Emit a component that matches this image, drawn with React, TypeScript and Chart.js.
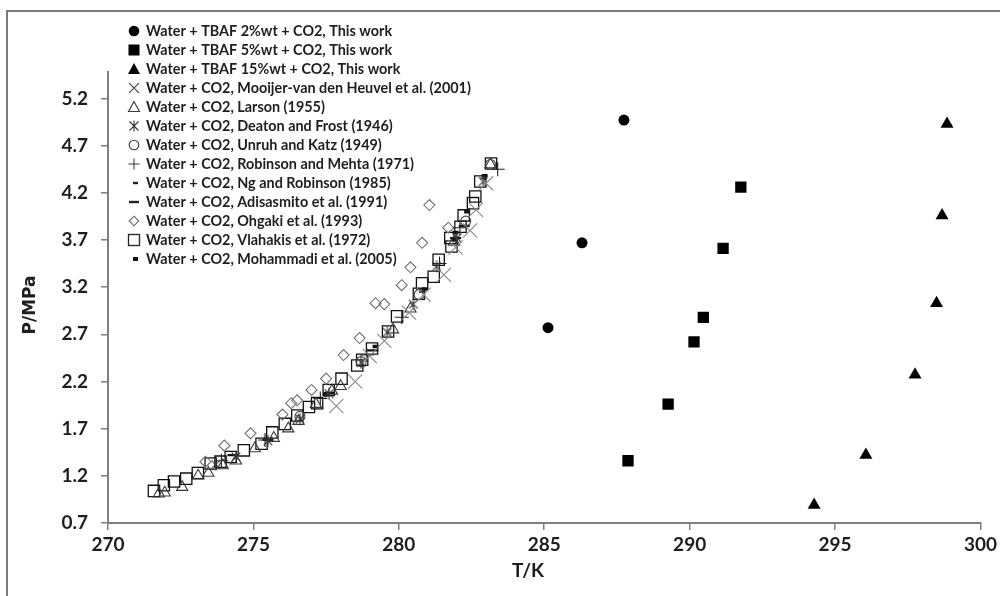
import React, { useEffect, useRef } from 'react';
import { Chart, registerables } from 'chart.js';

Chart.register(...registerables);

// ---------- axes ----------
const xMin = 270;
const xMax = 300;
const xStep = 5;
const yMin = 0.7;
const yMax = 5.48;
const yTickValues = [0.7, 1.2, 1.7, 2.2, 2.7, 3.2, 3.7, 4.2, 4.7, 5.2];
const xTitle = 'T/K';
const yTitle = 'P/MPa';

// ---------- data: [T/K, P/MPa] ----------
const tbaf2: [number, number][] = [[285.13, 2.77], [286.3, 3.67], [287.74, 4.97]];
const tbaf5: [number, number][] = [[287.88, 1.36], [289.26, 1.96], [290.15, 2.62], [290.47, 2.88], [291.15, 3.61], [291.76, 4.26]];
const tbaf15: [number, number][] = [[294.28, 0.89], [296.06, 1.42], [297.75, 2.27], [298.49, 3.03], [298.68, 3.96], [298.85, 4.93]];

const mooijer: [number, number][] = [[277.85, 1.94], [278.5, 2.2], [279.0, 2.47], [279.5, 2.63], [280.35, 2.93], [280.85, 3.12], [281.55, 3.33], [281.95, 3.62], [282.45, 3.8], [282.65, 4.02], [283.0, 4.3]];
const larson: [number, number][] = [[271.75, 1.01], [271.95, 1.02], [272.55, 1.08], [273.1, 1.2], [273.45, 1.23], [273.95, 1.31], [274.4, 1.36], [275.05, 1.49], [275.7, 1.6], [276.2, 1.7], [276.55, 1.78], [277.15, 1.96], [277.7, 2.1], [278.0, 2.15], [279.8, 2.75], [280.4, 2.97], [281.9, 3.68], [283.15, 4.5]];
const deaton: [number, number][] = [[273.7, 1.32], [274.4, 1.4], [275.5, 1.57], [276.6, 1.8], [277.6, 2.07], [278.7, 2.4], [279.6, 2.72], [280.5, 3.02], [281.3, 3.42], [282.0, 3.72], [282.9, 4.32]];
const unruh: [number, number][] = [[276.6, 1.83], [278.7, 2.41], [280.7, 3.12], [282.3, 3.9], [283.15, 4.5]];
const robinson: [number, number][] = [[273.9, 1.36], [275.4, 1.58], [277.3, 2.02], [278.9, 2.48], [280.1, 2.88], [281.4, 3.45], [282.1, 3.83], [283.4, 4.45]];
const ng: [number, number][] = [[280.8, 3.15], [281.9, 3.7], [282.9, 4.35]];
const adisasmito: [number, number][] = [[274.3, 1.42], [275.5, 1.58], [277.6, 2.08], [279.1, 2.53], [281.95, 3.72], [282.25, 3.85]];
const ohgaki: [number, number][] = [[273.35, 1.35], [274.0, 1.52], [274.9, 1.65], [276.0, 1.85], [276.3, 1.97], [276.5, 2.0], [277.0, 2.11], [277.5, 2.23], [278.1, 2.48], [278.65, 2.66], [279.2, 3.03], [279.5, 3.02], [280.1, 3.22], [280.4, 3.41], [280.8, 3.67], [281.05, 4.07], [281.7, 3.83]];
const vlahakis: [number, number][] = [[271.58, 1.04], [271.92, 1.1], [272.27, 1.14], [272.69, 1.17], [273.09, 1.23], [273.53, 1.33], [273.87, 1.35], [274.22, 1.4], [274.67, 1.47], [275.28, 1.54], [275.65, 1.66], [276.08, 1.75], [276.51, 1.84], [276.91, 1.93], [277.19, 1.97], [277.59, 2.11], [278.03, 2.23], [278.57, 2.37], [278.74, 2.43], [279.08, 2.55], [279.63, 2.73], [279.94, 2.89], [280.69, 3.13], [280.8, 3.24], [281.2, 3.31], [281.37, 3.49], [281.81, 3.63], [281.77, 3.72], [282.12, 3.84], [282.23, 3.96], [282.55, 4.09], [282.63, 4.16], [282.8, 4.32], [283.17, 4.51]];
const mohammadi: [number, number][] = [[277.5, 2.06], [279.2, 2.57], [280.9, 3.18], [281.95, 3.78], [282.35, 4.0], [282.95, 4.38]];

const seriesLabels = [
  'Water + TBAF 2%wt + CO2, This work',
  'Water + TBAF 5%wt + CO2, This work',
  'Water + TBAF 15%wt + CO2, This work',
  'Water + CO2, Mooijer-van den Heuvel et al. (2001)',
  'Water + CO2, Larson (1955)',
  'Water + CO2, Deaton and Frost (1946)',
  'Water + CO2, Unruh and Katz (1949)',
  'Water + CO2, Robinson and Mehta (1971)',
  'Water + CO2, Ng and Robinson (1985)',
  'Water + CO2, Adisasmito et al. (1991)',
  'Water + CO2, Ohgaki et al. (1993)',
  'Water + CO2, Vlahakis et al. (1972)',
  'Water + CO2, Mohammadi et al. (2005)',
];
const seriesData = [tbaf2, tbaf5, tbaf15, mooijer, larson, deaton, unruh, robinson, ng, adisasmito, ohgaki, vlahakis, mohammadi];
const seriesKinds = ['circleF', 'squareF', 'triF', 'cross', 'triO', 'star6', 'circleO', 'plus', 'dashS', 'dashL', 'diamond', 'squareO', 'dashT'];

const FONT = 'Lato, "Open Sans", sans-serif';

function makeStar(size: number, color: string, lw: number) {
  const c = document.createElement('canvas');
  c.width = size;
  c.height = size;
  const g = c.getContext('2d')!;
  g.strokeStyle = color;
  g.lineWidth = lw;
  const m = size / 2;
  const r = size / 2 - 1;
  const d = r * 0.72;
  g.beginPath();
  g.moveTo(m, m - r);
  g.lineTo(m, m + r);
  g.moveTo(m - d, m - d);
  g.lineTo(m + d, m + d);
  g.moveTo(m - d, m + d);
  g.lineTo(m + d, m - d);
  g.stroke();
  return c;
}

function drawLegendMarker(ctx: CanvasRenderingContext2D, kind: string, x: number, y: number) {
  ctx.save();
  ctx.lineWidth = 1.1;
  ctx.strokeStyle = '#3a3a3a';
  ctx.fillStyle = '#000';
  ctx.beginPath();
  switch (kind) {
    case 'circleF':
      ctx.arc(x, y, 5.3, 0, Math.PI * 2);
      ctx.fill();
      break;
    case 'squareF':
      ctx.fillRect(x - 5.5, y - 5.5, 11, 11);
      break;
    case 'triF':
      ctx.moveTo(x, y - 6);
      ctx.lineTo(x + 6, y + 5);
      ctx.lineTo(x - 6, y + 5);
      ctx.closePath();
      ctx.fill();
      break;
    case 'cross':
      ctx.strokeStyle = '#555';
      ctx.moveTo(x - 5, y - 5); ctx.lineTo(x + 5, y + 5);
      ctx.moveTo(x - 5, y + 5); ctx.lineTo(x + 5, y - 5);
      ctx.stroke();
      break;
    case 'triO':
      ctx.moveTo(x, y - 5.5);
      ctx.lineTo(x + 5.5, y + 4.5);
      ctx.lineTo(x - 5.5, y + 4.5);
      ctx.closePath();
      ctx.stroke();
      break;
    case 'star6':
      ctx.moveTo(x, y - 5.5); ctx.lineTo(x, y + 5.5);
      ctx.moveTo(x - 4.5, y - 4.5); ctx.lineTo(x + 4.5, y + 4.5);
      ctx.moveTo(x - 4.5, y + 4.5); ctx.lineTo(x + 4.5, y - 4.5);
      ctx.stroke();
      break;
    case 'circleO':
      ctx.arc(x, y, 4.8, 0, Math.PI * 2);
      ctx.stroke();
      break;
    case 'plus':
      ctx.moveTo(x, y - 5.5); ctx.lineTo(x, y + 5.5);
      ctx.moveTo(x - 5.5, y); ctx.lineTo(x + 5.5, y);
      ctx.stroke();
      break;
    case 'dashS':
      ctx.lineWidth = 2.4;
      ctx.strokeStyle = '#222';
      ctx.moveTo(x - 1, y); ctx.lineTo(x + 4, y);
      ctx.stroke();
      break;
    case 'dashL':
      ctx.lineWidth = 2.4;
      ctx.strokeStyle = '#222';
      ctx.moveTo(x - 5, y); ctx.lineTo(x + 5, y);
      ctx.stroke();
      break;
    case 'diamond':
      ctx.strokeStyle = '#666';
      ctx.moveTo(x, y - 4.8); ctx.lineTo(x + 4.8, y); ctx.lineTo(x, y + 4.8); ctx.lineTo(x - 4.8, y);
      ctx.closePath();
      ctx.stroke();
      break;
    case 'squareO':
      ctx.strokeStyle = '#222';
      ctx.lineWidth = 1.3;
      ctx.strokeRect(x - 5.5, y - 5.5, 11, 11);
      break;
    case 'dashT':
      ctx.fillStyle = '#111';
      ctx.fillRect(x - 1, y - 2, 5, 4);
      break;
  }
  ctx.restore();
}

const framePlugin = {
  id: 'frame',
  beforeDraw(chart: any) {
    const ctx = chart.ctx as CanvasRenderingContext2D;
    ctx.save();
    ctx.fillStyle = '#ffffff';
    ctx.fillRect(0, 0, chart.width, chart.height);
    ctx.strokeStyle = '#7a7a7a';
    ctx.lineWidth = 2;
    ctx.beginPath();
    ctx.moveTo(7, chart.height);
    ctx.lineTo(7, 11);
    ctx.lineTo(chart.width, 11);
    ctx.stroke();
    ctx.restore();
  },
};

const legendPlugin = {
  id: 'customLegend',
  afterDraw(chart: any) {
    const ctx = chart.ctx as CanvasRenderingContext2D;
    ctx.save();
    ctx.font = `bold 14.4px ${FONT}`;
    ctx.fillStyle = '#1e1e1e';
    ctx.textBaseline = 'middle';
    ctx.textAlign = 'left';
    seriesLabels.forEach((label, i) => {
      const y = 31 + i * 19;
      drawLegendMarker(ctx, seriesKinds[i], 134, y);
      ctx.fillText(label, 146, y + 0.5);
    });
    ctx.restore();
  },
};

const titlesPlugin = {
  id: 'axisTitles',
  afterDraw(chart: any) {
    const ctx = chart.ctx as CanvasRenderingContext2D;
    ctx.save();
    ctx.fillStyle = '#1e1e1e';
    ctx.textAlign = 'center';
    ctx.textBaseline = 'middle';
    ctx.font = `bold 19px ${FONT}`;
    ctx.fillText(xTitle, 528, 571);
    ctx.translate(31, 305);
    ctx.rotate(-Math.PI / 2);
    ctx.font = 'bold 17px "DejaVu Sans", sans-serif';
    ctx.fillText(yTitle, 0, 0);
    ctx.restore();
  },
};

export default function App() {
  const ref = useRef<HTMLCanvasElement>(null);

  useEffect(() => {
    document.body.style.margin = '0';
    const canvas = ref.current!;
    const star = makeStar(14, '#333', 1.1);
    const clear = 'rgba(0,0,0,0)';
    const toPts = (arr: [number, number][]) => arr.map(([x, y]) => ({ x, y }));

    const styleFor = (kind: string): any => {
      switch (kind) {
        case 'circleF': return { pointStyle: 'circle', pointRadius: 5.5, backgroundColor: '#000', borderColor: '#000', borderWidth: 0 };
        case 'squareF': return { pointStyle: 'rect', pointRadius: 8, backgroundColor: '#000', borderColor: '#000', borderWidth: 0 };
        case 'triF': return { pointStyle: 'triangle', pointRadius: 7.5, backgroundColor: '#000', borderColor: '#000', borderWidth: 0 };
        case 'cross': return { pointStyle: 'crossRot', pointRadius: 10, backgroundColor: clear, borderColor: '#8a8a8a', borderWidth: 1.1 };
        case 'triO': return { pointStyle: 'triangle', pointRadius: 6.5, backgroundColor: clear, borderColor: '#3a3a3a', borderWidth: 1.1 };
        case 'star6': return { pointStyle: star, pointRadius: 7, backgroundColor: clear, borderColor: '#333', borderWidth: 1 };
        case 'circleO': return { pointStyle: 'circle', pointRadius: 5, backgroundColor: clear, borderColor: '#444', borderWidth: 1.1 };
        case 'plus': return { pointStyle: 'cross', pointRadius: 7, backgroundColor: clear, borderColor: '#222', borderWidth: 1.1 };
        case 'dashS': return { pointStyle: 'line', pointRadius: 3, backgroundColor: clear, borderColor: '#111', borderWidth: 2.2 };
        case 'dashL': return { pointStyle: 'line', pointRadius: 5.5, backgroundColor: clear, borderColor: '#111', borderWidth: 2.2 };
        case 'diamond': return { pointStyle: 'rectRot', pointRadius: 5.5, backgroundColor: clear, borderColor: '#707070', borderWidth: 1.1 };
        case 'squareO': return { pointStyle: 'rect', pointRadius: 8, backgroundColor: clear, borderColor: '#111', borderWidth: 1.3 };
        case 'dashT': return { pointStyle: 'line', pointRadius: 3, backgroundColor: clear, borderColor: '#111', borderWidth: 3.5 };
      }
      return {};
    };

    const datasets = seriesData.map((d, i) => ({
      label: seriesLabels[i],
      data: toPts(d),
      showLine: false,
      pointHoverRadius: 0,
      ...styleFor(seriesKinds[i]),
    }));

    const axisGray = '#7f7f7f';
    const chart = new Chart(canvas, {
      type: 'scatter',
      data: { datasets },
      options: {
        responsive: false,
        animation: false,
        events: [],
        layout: { padding: { top: 72, right: 18, left: 0, bottom: 0 } },
        plugins: { legend: { display: false }, tooltip: { enabled: false } },
        scales: {
          x: {
            type: 'linear',
            min: xMin,
            max: xMax,
            ticks: { stepSize: xStep, color: '#1e1e1e', padding: 3, font: { family: FONT, weight: 'bold', size: 19 } },
            grid: { drawOnChartArea: false, drawTicks: true, tickLength: 7, color: axisGray, lineWidth: 1.5 },
            border: { color: axisGray, width: 2 },
            afterFit: (s: any) => { s.height = 73; },
          },
          y: {
            type: 'linear',
            min: yMin,
            max: yMax,
            afterBuildTicks: (s: any) => { s.ticks = yTickValues.map((v) => ({ value: v })); },
            ticks: { color: '#1e1e1e', padding: 13, callback: (v: any) => Number(v).toFixed(1), font: { family: FONT, weight: 'bold', size: 19 } },
            grid: { drawOnChartArea: false, drawTicks: true, tickLength: 7, color: axisGray, lineWidth: 1.5 },
            border: { color: axisGray, width: 2 },
            afterFit: (s: any) => { s.width = 108; },
          },
        },
      } as any,
      plugins: [framePlugin, legendPlugin, titlesPlugin],
    });
    return () => chart.destroy();
  }, []);

  return (
    <div style={{ width: 1000, height: 596 }}>
      <canvas ref={ref} width={1000} height={596} style={{ display: 'block' }} />
    </div>
  );
}
